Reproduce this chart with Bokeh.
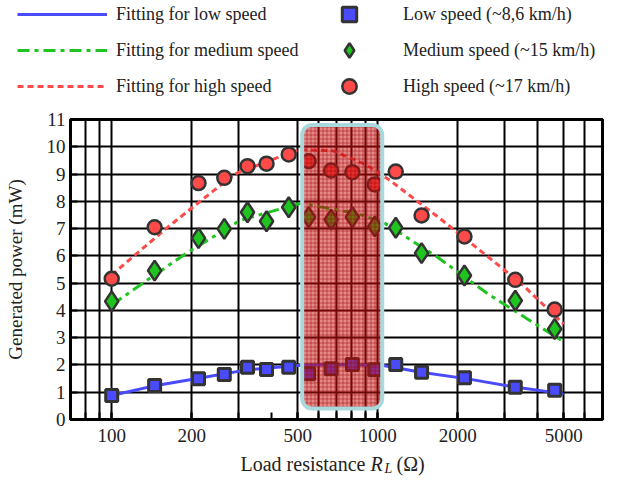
from bokeh.plotting import figure
from bokeh.layouts import column, row
from bokeh.models import FixedTicker, Legend, LegendItem, Label
from bokeh.embed import file_html
from bokeh.resources import INLINE

# ---------------- data ----------------
load_res = [100, 145, 212, 265, 324, 382, 463, 550, 668, 803, 975, 1169, 1462, 2119, 3290, 4627]
low_speed = [0.88, 1.25, 1.49, 1.65, 1.92, 1.83, 1.92, 1.68, 1.86, 2.02, 1.82, 2.02, 1.73, 1.53, 1.18, 1.07]
medium_speed = [4.33, 5.46, 6.65, 6.99, 7.60, 7.27, 7.78, 7.42, 7.33, 7.42, 7.08, 7.03, 6.10, 5.28, 4.36, 3.32]
high_speed = [5.16, 7.05, 8.67, 8.86, 9.29, 9.38, 9.72, 9.47, 9.13, 9.07, 8.62, 9.09, 7.48, 6.71, 5.12, 4.03]

fit_low_x = [100, 147, 215, 322, 500, 700, 1050, 1455, 2180, 3280, 5000]
fit_low_y = [0.88, 1.25, 1.52, 1.82, 1.98, 2.02, 1.98, 1.73, 1.49, 1.19, 0.94]
fit_med_x = [100, 131, 191, 304, 512, 838, 1050, 1680, 2600, 3570, 5000]
fit_med_y = [4.20, 5.00, 6.10, 7.30, 7.93, 7.55, 7.23, 5.95, 4.60, 3.75, 2.85]
fit_high_x = [100, 160, 215, 290, 420, 510, 680, 900, 1100, 1700, 2250, 3450, 5000]
fit_high_y = [5.30, 7.00, 8.00, 9.00, 9.60, 9.90, 9.85, 9.35, 8.80, 7.40, 6.45, 5.00, 3.50]

optimal_left, optimal_right = 520, 1040
optimal_bottom, optimal_top = 0.4, 10.8

x_major = [100, 200, 500, 1000, 2000, 5000]
x_minor = [70, 80, 90, 100, 200, 300, 400, 500, 600, 700, 800, 900, 1000,
           2000, 3000, 4000, 5000, 6000, 7000]
x_grid = [80, 90, 100, 200, 300, 500, 600, 700, 800, 900, 1000,
          2000, 3000, 4000, 5000, 6000]
y_ticks = list(range(0, 12))

FONT = "Liberation Serif"
TXT = "#222222"
BLUE, GREEN, RED, EDGE = "#4a4aff", "#1fc41f", "#ff4a4a", "#333333"

line_styles = {
    "low": dict(line_color=BLUE, line_width=3),
    "med": dict(line_color=GREEN, line_width=3, line_dash="12 5 4 5"),
    "high": dict(line_color=RED, line_width=3, line_dash="6 4"),
}
marker_styles = {
    "low": dict(marker="square", size=12, fill_color=BLUE, line_color=EDGE, line_width=3),
    "med": dict(marker="diamond", size=20, fill_color=GREEN, line_color=EDGE, line_width=2.5),
    "high": dict(marker="circle", size=14, fill_color=RED, line_color=EDGE, line_width=2.5),
}

W = 607
LEG_H = 108
MAIN_H = 342
LAB_H = 27
NAN = [float("nan")]

# ---------------- legend strip ----------------
fl = figure(width=W, height=LEG_H, x_range=(0, 1), y_range=(0, 1),
            x_axis_location=None, y_axis_location=None,
            output_backend="svg", toolbar_location=None, min_border=0)
fl.outline_line_color = None
fl.grid.visible = False
d_low = fl.line(NAN, NAN, **line_styles["low"])
d_med = fl.line(NAN, NAN, **line_styles["med"])
d_high = fl.line(NAN, NAN, **line_styles["high"])
s_low = fl.scatter(NAN, NAN, **marker_styles["low"])
s_med = fl.scatter(NAN, NAN, **marker_styles["med"])
s_high = fl.scatter(NAN, NAN, **marker_styles["high"])

leg_common = dict(glyph_width=90, glyph_height=36, spacing=-3, padding=0, margin=0,
                  label_standoff=9, label_text_font=FONT, label_text_font_size="18px",
                  label_text_color=TXT, border_line_alpha=0,
                  background_fill_alpha=0)
leg1 = Legend(items=[LegendItem(label="Fitting for low speed", renderers=[d_low]),
                     LegendItem(label="Fitting for medium speed", renderers=[d_med]),
                     LegendItem(label="Fitting for high speed", renderers=[d_high])],
              location=(17, 4), **leg_common)
leg2 = Legend(items=[LegendItem(label="Low speed (~8,6 km/h)", renderers=[s_low]),
                     LegendItem(label="Medium speed (~15 km/h)", renderers=[s_med]),
                     LegendItem(label="High speed (~17 km/h)", renderers=[s_high])],
              location=(304, 4), **leg_common)
fl.add_layout(leg1, "center")
fl.add_layout(leg2, "center")

# ---------------- main chart ----------------
p = figure(width=W, height=MAIN_H, x_axis_type="log", x_range=(70, 7000), y_range=(0, 11),
           output_backend="svg", toolbar_location=None,
           min_border_left=70, min_border_right=5, min_border_top=11, min_border_bottom=31)
p.outline_line_color = "black"
p.outline_line_width = 3

p.xaxis.ticker = FixedTicker(ticks=x_major, minor_ticks=x_minor)
p.xaxis.major_label_overrides = {v: str(v) for v in x_major}
p.yaxis.ticker = FixedTicker(ticks=y_ticks)
p.xgrid.ticker = FixedTicker(ticks=x_grid)
p.ygrid.ticker = FixedTicker(ticks=y_ticks[1:-1])
for g in (p.xgrid, p.ygrid):
    g.grid_line_color = "black"
    g.grid_line_width = 2
    g.grid_line_alpha = 1

for ax in (p.xaxis, p.yaxis):
    ax.axis_line_color = "black"
    ax.axis_line_width = 2
    ax.major_tick_in = 7
    ax.major_tick_out = 0
    ax.minor_tick_in = 7
    ax.minor_tick_out = 0
    ax.major_tick_line_width = 2
    ax.minor_tick_line_width = 2
    ax.major_label_text_font = FONT
    ax.major_label_text_font_size = "19px"
    ax.major_label_text_color = TXT
p.yaxis.minor_tick_line_color = None
p.xaxis.major_label_standoff = 9
p.yaxis.major_label_standoff = 5
p.yaxis.axis_label = "Generated power (mW)"
p.yaxis.axis_label_text_font = FONT
p.yaxis.axis_label_text_font_size = "19px"
p.yaxis.axis_label_text_font_style = "normal"
p.yaxis.axis_label_text_color = TXT
p.yaxis.axis_label_standoff = 18

p.line(fit_low_x, fit_low_y, **line_styles["low"])
p.line(fit_med_x, fit_med_y, **line_styles["med"])
p.line(fit_high_x, fit_high_y, **line_styles["high"])

p.scatter(load_res, low_speed, **marker_styles["low"])
p.scatter(load_res, medium_speed, **marker_styles["med"])
p.scatter(load_res, high_speed, **marker_styles["high"])

p.quad(left=[optimal_left], right=[optimal_right], bottom=[optimal_bottom], top=[optimal_top],
       fill_color="#cc1111", fill_alpha=0.5, line_color="#a9d9dd", line_width=4,
       hatch_pattern="+", hatch_scale=4, hatch_color="#9a0000", hatch_alpha=0.45,
       hatch_weight=1, border_radius=10)

# ---------------- x-axis title strip ----------------
fx = figure(width=W, height=LAB_H, x_range=(0, 1), y_range=(0, 1),
            x_axis_location=None, y_axis_location=None,
            output_backend="svg", toolbar_location=None,
            min_border_left=70, min_border_right=5, min_border_top=0, min_border_bottom=0)
fx.outline_line_color = None
fx.grid.visible = False
lab_common = dict(x_units="screen", y_units="screen", text_font=FONT, text_color=TXT,
                  text_baseline="alphabetic")
fx.add_layout(Label(x=170, y=14, text="Load resistance", text_font_size="20px", **lab_common))
fx.add_layout(Label(x=300, y=14, text="R", text_font_size="20px",
                    text_font_style="italic", **lab_common))
fx.add_layout(Label(x=314, y=9, text="L", text_font_size="14px",
                    text_font_style="italic", **lab_common))
fx.add_layout(Label(x=326, y=14, text="(\u03a9)", text_font_size="20px", **lab_common))

layout = column(row(fl), p, fx, spacing=0)
open("out.html", "w").write(file_html(layout, INLINE))
